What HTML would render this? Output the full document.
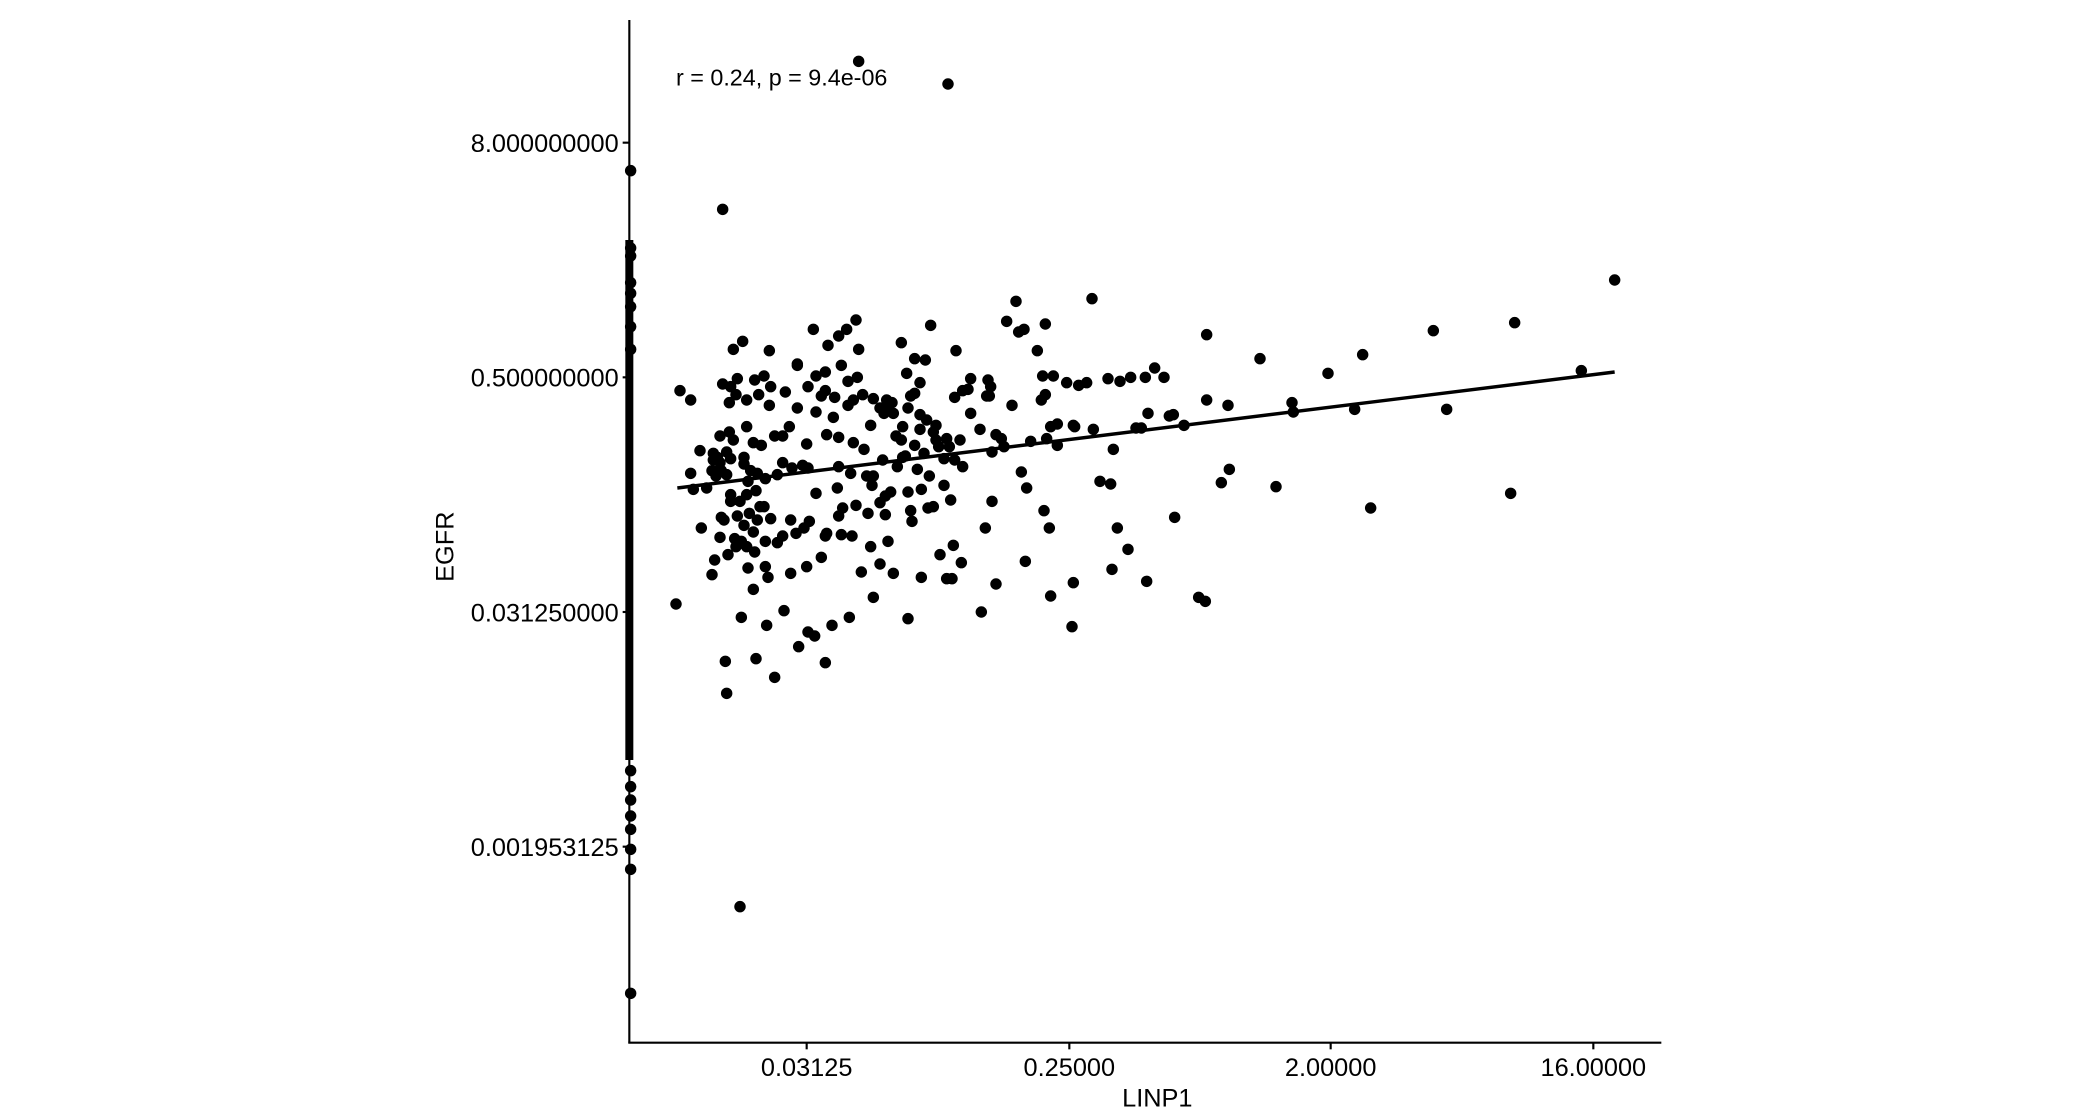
<!DOCTYPE html>
<html><head><meta charset="utf-8"><style>
html,body{margin:0;padding:0;background:#fff;}
svg{display:block;}
text{font-family:"Liberation Sans",Arial,sans-serif;fill:#000;}
</style></head><body>
<svg width="2090" height="1112" viewBox="0 0 1567.5 834" xmlns="http://www.w3.org/2000/svg">
<rect width="1567.5" height="834" fill="#fff"/>
<line x1="472" y1="15" x2="472" y2="782" stroke="#000" stroke-width="1.6"/>
<line x1="471.2" y1="782" x2="1246" y2="782" stroke="#000" stroke-width="1.6"/>
<g stroke="#000" stroke-width="1.6">
<line x1="467" y1="107" x2="472" y2="107"/><line x1="467" y1="283" x2="472" y2="283"/>
<line x1="467" y1="459" x2="472" y2="459"/><line x1="467" y1="635" x2="472" y2="635"/>
<line x1="605" y1="782" x2="605" y2="787"/><line x1="802" y1="782" x2="802" y2="787"/>
<line x1="998" y1="782" x2="998" y2="787"/><line x1="1195" y1="782" x2="1195" y2="787"/>
</g>
<g font-size="19" text-anchor="end">
<text x="464" y="114">8.000000000</text>
<text x="464" y="290">0.500000000</text>
<text x="464" y="466">0.031250000</text>
<text x="464" y="642">0.001953125</text>
</g>
<g font-size="19" text-anchor="middle">
<text x="605" y="807">0.03125</text>
<text x="802" y="807">0.25000</text>
<text x="998" y="807">2.00000</text>
<text x="1195" y="807">16.00000</text>
<text x="868" y="830">LINP1</text>
<text transform="translate(340,410) rotate(-90)">EGFR</text>
</g>
<text x="507" y="64" font-size="17.5">r = 0.24, p = 9.4e-06</text>
<rect x="469" y="180" width="6" height="390" fill="#000"/>
<path fill="none" stroke="#000" stroke-width="8.6" stroke-linecap="round" d="M473 128h0M473 186h0M473 192h0M473 212h0M473 220h0M473 230h0M473 245h0M473 262h0M473 578h0M473 590h0M473 600h0M473 612h0M473 622h0M473 637h0M473 652h0M473 745h0
M644 46h0M711 63h0M542 157h0M762 226h0M819 224h0M1211 210h0M1136 242h0M1075 248h0M905 251h0M755 241h0M784 243h0M768 247h0M764 249h0M557 256h0M610 247h0M642 240h0M629 252h0M698 244h0M676 257h0M631 274h0M644 262h0M686 269h0M694 270h0M680 280h0M577 263h0M598 274h0M550 262h0M945 269h0M996 280h0M1022 266h0M1186 278h0M866 276h0M859 283h0M848 283h0M873 283h0M831 284h0M840 286h0M815 287h0M778 263h0M741 285h0M742 297h0M784 296h0M806 320h0M905 300h0M921 304h0M969 302h0M970 309h0M1016 307h0M1085 307h0M1028 381h0M1133 370h0M957 365h0M916 362h0M922 352h0M881 388h0M825 361h0M833 363h0M838 396h0M846 412h0M834 427h0M860 436h0M899 448h0M904 451h0M805 437h0M788 447h0M804 470h0M783 383h0M787 396h0M766 354h0M770 366h0M744 376h0M739 396h0M769 421h0M747 438h0M736 459h0M691 433h0M710 434h0M714 434h0M715 409h0M721 422h0M705 416h0M696 381h0M684 391h0M670 430h0M666 406h0M646 429h0M681 464h0M655 448h0M637 463h0M624 469h0M611 477h0M619 497h0M606 474h0M588 458h0M605 425h0M593 430h0M616 418h0M619 402h0M629 387h0M632 381h0M642 379h0M607 391h0M575 469h0M581 508h0M567 494h0M544 496h0M545 520h0M556 463h0M555 680h0M507 453h0M510 293h0M518 300h0M534 431h0M536 420h0M546 416h0M556 406h0M560 410h0M566 414h0M574 406h0M565 399h0M570 380h0M553 387h0M541 388h0M526 396h0M520 367h0M530 366h0M518 355h0M525 338h0M535 340h0M540 327h0M547 324h0M558 343h0M565 332h0M571 334h0M581 327h0M547 302h0M552 296h0M560 300h0M569 296h0M578 290h0M577 304h0M553 284h0M548 290h0M542 288h0M566 285h0M589 294h0M598 273h0M606 290h0M616 297h0M626 298h0M619 279h0M612 309h0M620 326h0M625 313h0M629 328h0M640 300h0M647 296h0M655 299h0M660 306h0M665 307h0M670 310h0M681 306h0M683 297h0M677 320h0M672 327h0M690 311h0M695 315h0M690 322h0M700 324h0M702 330h0M710 329h0M712 335h0M720 330h0M735 322h0M747 326h0M751 329h0M773 331h0M785 329h0M793 334h0M805 319h0M820 322h0M856 321h0M852 321h0M861 310h0M877 312h0M880 311h0M888 319h0M708 364h0M713 375h0M716 345h0M722 350h0M697 357h0M688 352h0M677 343h0M662 345h0M655 357h0M650 357h0M638 355h0M628 366h0M612 370h0M606 351h0M602 349h0M594 351h0M587 347h0M583 356h0M574 359h0M568 355h0M563 353h0M558 348h0M545 356h0M540 347h0M535 345h0M534 353h0M548 371h0M555 376h0M560 371h0M562 385h0M568 390h0M578 389h0M573 380h0M567 368h0M561 361h0M583 407h0M587 402h0M597 400h0M603 396h0M593 390h0M639 402h0M651 385h0M660 377h0M668 369h0M681 369h0M691 367h0M664 386h0M654 364h0M629 350h0M640 332h0M648 337h0M653 319h0M663 310h0M643 283h0M636 286h0M619 293h0M612 282h0M621 259h0M635 247h0M573 282h0M560 320h0M550 330h0M548 344h0M541 353h0M538 343h0M545 339h0M537 357h0M543 390h0M548 376h0M540 403h0M551 404h0M558 394h0M552 410h0M561 426h0M565 442h0M574 425h0M576 433h0M599 485h0M620 400h0M631 401h0M660 423h0M653 410h0M673 350h0M679 342h0M686 334h0M693 340h0M704 335h0M728 310h0M740 297h0M759 304h0M782 282h0M790 282h0M800 287h0M809 289h0M722 293h0M716 298h0M743 290h0M728 284h0M717 263h0M726 292h0M702 319h0M708 344h0M686 295h0M690 287h0M669 302h0M665 300h0M676 330h0M744 339h0M793 318h0M753 335h0M788 320h0M835 337h0M781 300h0M700 380h0M683 383h0M664 372h0M592 320h0M605 333h0M598 306h0M636 304h0M587 327h0"/>
<line x1="508" y1="366" x2="1211" y2="279" stroke="#000" stroke-width="2.6"/>
</svg>
</body></html>
